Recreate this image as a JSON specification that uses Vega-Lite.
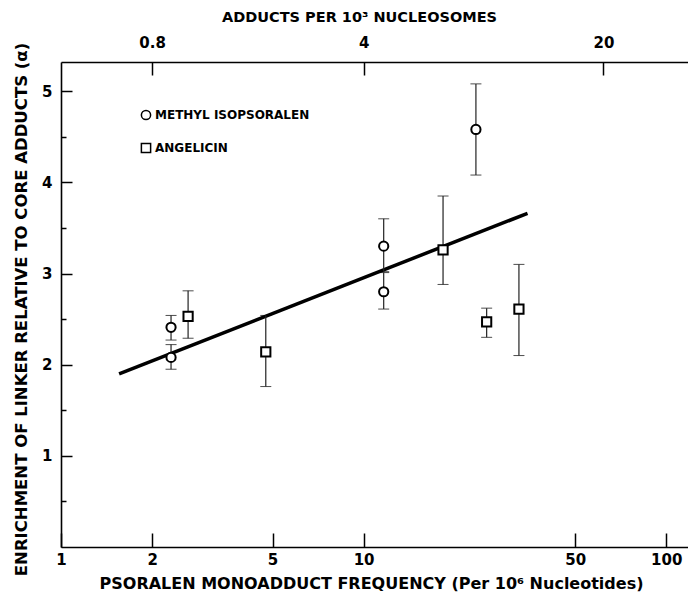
{
  "$schema": "https://vega.github.io/schema/vega-lite/v6.json",
  "width": 627,
  "height": 485,
  "autosize": {"type": "none"},
  "padding": {"left": 61, "top": 62, "right": 0, "bottom": 50},
  "background": "white",
  "config": {
    "view": {"stroke": null},
    "font": "DejaVu Sans",
    "axis": {
      "domainColor": "black",
      "tickColor": "black",
      "labelColor": "black",
      "titleColor": "black",
      "grid": false,
      "domainWidth": 1.6,
      "tickWidth": 1.5,
      "labelFontSize": 15,
      "labelFontWeight": "bold",
      "titleFontSize": 16,
      "titleFontWeight": "bold",
      "labelFont": "DejaVu Sans",
      "titleFont": "DejaVu Sans"
    }
  },
  "datasets": {
    "fit": [
      {"x": 1.556, "y": 1.9},
      {"x": 34.8, "y": 3.66}
    ],
    "pts": [
      {"compound": "METHYL ISOPSORALEN", "x": 2.31, "y": 2.41, "lo": 2.27, "hi": 2.54},
      {"compound": "METHYL ISOPSORALEN", "x": 2.31, "y": 2.08, "lo": 1.95, "hi": 2.22},
      {"compound": "METHYL ISOPSORALEN", "x": 11.65, "y": 3.3, "lo": 3.02, "hi": 3.6},
      {"compound": "METHYL ISOPSORALEN", "x": 11.65, "y": 2.8, "lo": 2.61, "hi": 3.01},
      {"compound": "METHYL ISOPSORALEN", "x": 23.5, "y": 4.58, "lo": 4.08, "hi": 5.08},
      {"compound": "ANGELICIN", "x": 2.63, "y": 2.53, "lo": 2.29, "hi": 2.81},
      {"compound": "ANGELICIN", "x": 4.75, "y": 2.14, "lo": 1.76, "hi": 2.54},
      {"compound": "ANGELICIN", "x": 18.3, "y": 3.26, "lo": 2.88, "hi": 3.85},
      {"compound": "ANGELICIN", "x": 25.5, "y": 2.47, "lo": 2.3, "hi": 2.62},
      {"compound": "ANGELICIN", "x": 32.6, "y": 2.61, "lo": 2.1, "hi": 3.1}
    ]
  },
  "layer": [
    {
      "data": {"name": "fit"},
      "mark": {"type": "line", "strokeWidth": 3.5, "color": "black", "strokeCap": "butt"},
      "encoding": {
        "x": {
          "field": "x", "type": "quantitative",
          "scale": {"type": "log", "domain": [1, 118], "nice": false},
          "axis": {
            "orient": "bottom",
            "values": [1, 2, 5, 10, 50, 100],
            "format": "d",
            "tickSize": -14,
            "labelPadding": 19,
            "labelFlush": false,
            "labelOverlap": false,
            "title": "PSORALEN MONOADDUCT FREQUENCY (Per 10⁶ Nucleotides)",
            "titleX": 310,
            "titleY": 36,
            "titleBaseline": "middle",
            "titleFontSize": 16
          }
        },
        "y": {
          "field": "y", "type": "quantitative",
          "scale": {"domain": [0, 5.32], "nice": false, "zero": false},
          "axis": {
            "orient": "left",
            "values": [1, 2, 3, 4, 5],
            "tickSize": -11,
            "labelPadding": 20,
            "title": "ENRICHMENT OF LINKER RELATIVE TO CORE ADDUCTS (α)",
            "titleFontSize": 16.5,
            "titleX": -40,
            "titleY": 247,
            "titleAngle": -90,
            "titleBaseline": "middle",
            "titleAlign": "center"
          }
        }
      }
    },
    {
      "data": {"name": "pts"},
      "mark": {"type": "errorbar", "ticks": {"size": 11, "color": "black"}, "rule": {"strokeWidth": 1.2, "color": "#222222"}},
      "encoding": {
        "x": {"field": "x", "type": "quantitative", "axis": null},
        "y": {"field": "lo", "type": "quantitative", "axis": null},
        "y2": {"field": "hi"}
      }
    },
    {
      "data": {"name": "pts"},
      "mark": {"type": "point", "filled": true, "fill": "white", "stroke": "black", "strokeWidth": 2, "size": 85, "opacity": 1},
      "encoding": {
        "x": {
          "field": "x", "type": "quantitative",
          "axis": {
            "orient": "top",
            "values": [2, 10, 62],
            "labelExpr": "datum.value == 2 ? '0.8' : datum.value == 10 ? '4' : '20'",
            "tickSize": -13,
            "labelPadding": 25,
            "labelFlush": false,
            "title": "ADDUCTS PER 10³ NUCLEOSOMES",
            "titleFontSize": 14.5,
            "titleX": 298,
            "titleY": -45,
            "titleBaseline": "middle"
          }
        },
        "y": {
          "field": "y", "type": "quantitative",
          "axis": {
            "orient": "left",
            "values": [0.5, 1.5, 2.5, 3.5, 4.5],
            "tickSize": -5,
            "labels": false,
            "domain": false,
            "title": null
          }
        },
        "shape": {
          "field": "compound", "type": "nominal",
          "scale": {"domain": ["METHYL ISOPSORALEN", "ANGELICIN"], "range": ["circle", "square"]},
          "legend": {
            "orient": "none",
            "legendX": 79,
            "legendY": 47,
            "title": null,
            "symbolSize": 85,
            "labelFont": "DejaVu Sans",
            "labelFontWeight": "bold",
            "labelFontSize": 12,
            "labelColor": "black",
            "labelOffset": 3,
            "rowPadding": 17,
            "encode": {
              "symbols": {
                "update": {
                  "fill": {"value": "white"},
                  "stroke": {"value": "black"},
                  "strokeWidth": {"value": 2},
                  "opacity": {"value": 1},
                  "fillOpacity": {"value": 1},
                  "strokeOpacity": {"value": 1}
                }
              }
            }
          }
        }
      }
    }
  ],
  "resolve": {"axis": {"x": "independent", "y": "independent"}}
}
